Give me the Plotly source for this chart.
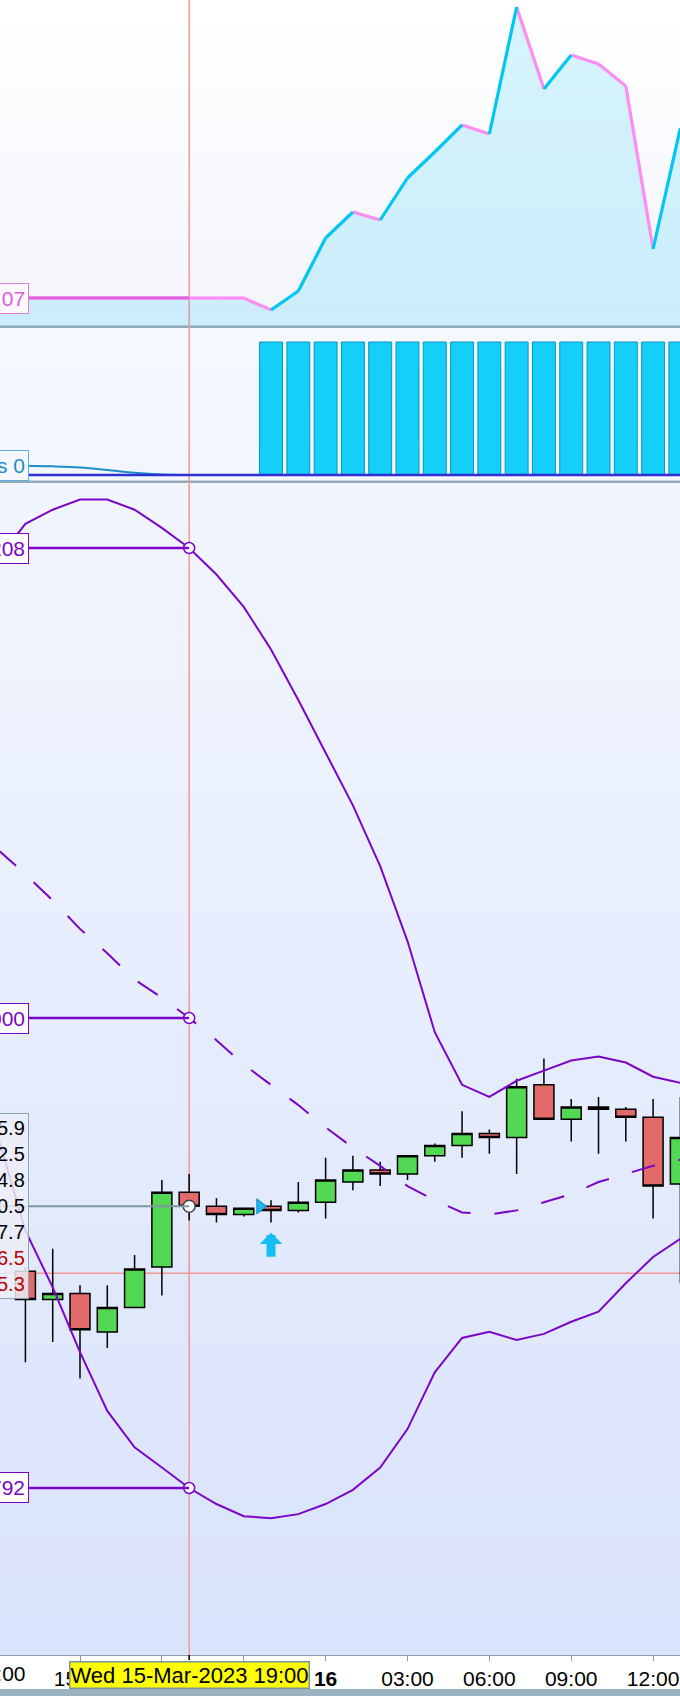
import pandas as pd
import plotly.graph_objects as go

# ---- data -------------------------------------------------------------
# hourly timeline 15-Mar-2023 12:00 .. 16-Mar-2023 13:00
hours = pd.date_range("2023-03-15 12:00", "2023-03-16 13:00", freq="h")
candle_hours = hours[1:]

# hourly OHLC 15-Mar 13:00 .. 16-Mar 13:00
opens = [3987.5, 3986.1, 3986.4, 3984.5, 3985.7, 3987.7, 3991.4, 3990.7, 3990.3, 3990.7,
         3990.5, 3990.9, 3991.9, 3992.5, 3992.3, 3993.2, 3993.7, 3994.3, 3994.1, 3996.7,
         3995.0, 3995.6, 3995.5, 3995.1, 3991.8]
highs = [3987.7, 3988.6, 3986.8, 3986.8, 3988.3, 3992.0, 3992.3, 3991.1, 3990.6, 3991.0,
         3991.9, 3993.1, 3993.2, 3992.9, 3993.2, 3993.8, 3995.4, 3994.5, 3997.0, 3998.0,
         3996.0, 3996.1, 3995.6, 3996.0, 3996.1]
lows = [3983.0, 3984.0, 3982.2, 3983.7, 3985.7, 3986.3, 3990.0, 3989.9, 3990.2, 3989.9,
        3990.4, 3990.1, 3991.5, 3991.7, 3992.0, 3992.9, 3993.1, 3993.3, 3992.3, 3995.0,
        3993.9, 3993.3, 3993.9, 3990.1, 3986.9]
closes = [3986.1, 3986.4, 3984.6, 3985.7, 3987.6, 3991.4, 3990.7, 3990.3, 3990.6, 3990.5,
          3990.9, 3992.0, 3992.5, 3992.3, 3993.2, 3993.7, 3994.3, 3994.1, 3996.6, 3995.0,
          3995.6, 3995.5, 3995.1, 3991.7, 3994.1]

# bollinger bands, 12:00 .. 13:00
bb_upper = [4022.7, 4024.4, 4025.1, 4025.6, 4025.6, 4025.1, 4024.2, 4023.208, 4021.9, 4020.3,
            4018.2, 4015.7, 4013.1, 4010.5, 4007.5, 4003.8, 3999.3, 3996.7, 3996.1, 3996.9,
            3997.4, 3997.9, 3998.1, 3997.8, 3997.1, 3996.8]
bb_mid = [4008.3, 4007.1, 4005.8, 4004.4, 4003.2, 4001.9, 4001.0, 4000.0, 3998.9, 3997.7,
          3996.7, 3995.7, 3994.6, 3993.6, 3992.7, 3991.7, 3991.0, 3990.4, 3990.3, 3990.5,
          3990.9, 3991.3, 3991.9, 3992.3, 3992.7, 3993.0]
bb_lower = [3994.1, 3989.5, 3986.7, 3983.5, 3980.6, 3978.8, 3977.8, 3976.792, 3976.0, 3975.4,
            3975.3, 3975.5, 3976.0, 3976.7, 3977.8, 3979.7, 3982.5, 3984.2, 3984.5, 3984.1,
            3984.4, 3985.0, 3985.5, 3986.9, 3988.2, 3989.1]

# top panel oscillator
osc = [1.07, 1.07, 1.07, 1.07, 1.07, 1.07, 1.07, 1.07, 1.07, 1.07,
       1.01, 1.105, 1.37, 1.50, 1.46, 1.67, 1.80, 1.935, 1.89, 2.525,
       2.115, 2.285, 2.24, 2.13, 1.315, 1.92]

# middle panel: signal state bars and fading line
sig_bars = [0, 0, 0, 0, 0, 0, 0, 0, 0, 0,
            1, 1, 1, 1, 1, 1, 1, 1, 1, 1,
            1, 1, 1, 1, 1, 1]
sig_line = [0.072, 0.070, 0.065, 0.056, 0.038, 0.017, 0.004, 0.0, 0.0, 0.0,
            0.0, 0.0, 0.0, 0.0, 0.0, 0.0, 0.0, 0.0, 0.0, 0.0,
            0.0, 0.0, 0.0, 0.0, 0.0, 0.0]

entry_time = ["2023-03-15 21:36"]
entry_price = [3990.7]
arrow_time = ["2023-03-15 22:00"]
arrow_price = [3989.4]

cursor_time = "2023-03-15 19:00"
cursor_price = 3987.4
cursor_label = "Wed 15-Mar-2023 19:00"

tick_times = ["2023-03-15 15:00", "2023-03-15 18:00", "2023-03-15 21:00", "2023-03-16 00:00",
              "2023-03-16 03:00", "2023-03-16 06:00", "2023-03-16 09:00", "2023-03-16 12:00"]
tick_text = ["15:00", "18:00", "21:00", "<b>16</b>", "03:00", "06:00", "09:00", "12:00"]
cut_tick = "12:00"

# data-window values (left part cut off in the screenshot)
stack_values = ["5.9", "2.5", "4.8", "0.5", "7.7", "6.5", "5.3"]
stack_red = [False, False, False, False, False, True, True]

# ---- geometry ----------------------------------------------------------
W, H = 680, 1696
PLOT_H = 1655
x_range = ["2023-03-15 12:04:07", "2023-03-16 12:59:10"]
FONT = "Liberation Sans, Arial, sans-serif"
PURPLE = "#7a06c8"


def py(px):
    return (PLOT_H - px) / PLOT_H


def gradient(top, bottom, c_top, c_bot, n=30):
    out = []
    for k in range(n):
        f = k / (n - 1)
        col = tuple(round(a + (b - a) * f) for a, b in zip(c_top, c_bot))
        y0 = top + (bottom - top) * k / n
        y1 = top + (bottom - top) * (k + 1) / n + 0.6
        out.append(dict(type="rect", xref="paper", yref="paper", x0=0, x1=1,
                        y0=py(min(y1, bottom)), y1=py(y0),
                        fillcolor="rgb(%d,%d,%d)" % col, line=dict(width=0), layer="below"))
    return out


ci = list(hours).index(pd.Timestamp(cursor_time))

fig = go.Figure()

# top panel
fig.add_trace(go.Scatter(x=hours, y=osc, mode="lines", line=dict(width=0),
                         fill="tozeroy", fillcolor="rgba(30,200,250,0.18)",
                         yaxis="y", hoverinfo="skip"))
up_x, up_y, dn_x, dn_y = [], [], [], []
for i in range(1, len(osc)):
    tx, ty = (up_x, up_y) if osc[i] > osc[i - 1] else (dn_x, dn_y)
    tx += [hours[i - 1], hours[i], None]
    ty += [osc[i - 1], osc[i], None]
fig.add_trace(go.Scatter(x=dn_x, y=dn_y, mode="lines", yaxis="y",
                         line=dict(color="#ff8cf2", width=3.2)))
fig.add_trace(go.Scatter(x=up_x, y=up_y, mode="lines", yaxis="y",
                         line=dict(color="#00c6f2", width=3.2)))

# middle panel
fig.add_trace(go.Bar(x=hours, y=sig_bars, width=3024000, yaxis="y2",
                     marker=dict(color="#14cff7", line=dict(color="#0b94c6", width=1))))
fig.add_trace(go.Scatter(x=hours, y=sig_line, mode="lines", yaxis="y2",
                         line=dict(color="#1a8ec6", width=2, shape="spline")))

# price panel
fig.add_trace(go.Scatter(x=hours, y=bb_upper, mode="lines", yaxis="y3",
                         line=dict(color=PURPLE, width=2)))
fig.add_trace(go.Scatter(x=hours, y=bb_lower, mode="lines", yaxis="y3",
                         line=dict(color=PURPLE, width=2)))
fig.add_trace(go.Scatter(x=hours, y=bb_mid, mode="lines", yaxis="y3",
                         line=dict(color=PURPLE, width=2, dash="24px,24px")))
fig.add_trace(go.Candlestick(
    x=candle_hours, open=opens, high=highs, low=lows, close=closes, yaxis="y3",
    whiskerwidth=0,
    increasing=dict(fillcolor="#52d852", line=dict(color="black", width=1.5)),
    decreasing=dict(fillcolor="#e26a6a", line=dict(color="black", width=1.5)),
))
fig.add_trace(go.Scatter(x=entry_time, y=entry_price, mode="markers", yaxis="y3",
                         marker=dict(symbol="triangle-right", size=13, color="#1cb6ee",
                                     line=dict(color="#0a86c0", width=1))))

# crosshair circles
fig.add_trace(go.Scatter(x=[cursor_time] * 3, y=[bb_upper[ci], bb_mid[ci], bb_lower[ci]],
                         mode="markers", yaxis="y3",
                         marker=dict(size=11, color="white", line=dict(color=PURPLE, width=1.5))))
fig.add_trace(go.Scatter(x=[cursor_time], y=[closes[ci - 1]], mode="markers", yaxis="y3",
                         marker=dict(size=12, color="white", line=dict(color="#3c4448", width=1.5))))

# ---- shapes -----------------------------------------------------------
shapes = []
shapes += gradient(0, 326, (255, 255, 255), (243, 245, 252))
shapes += gradient(328, 481, (245, 248, 254), (243, 246, 253), n=4)
shapes += gradient(483, PLOT_H, (241, 245, 254), (217, 227, 251))
for sep in (326.5, 481.5):
    shapes.append(dict(type="rect", xref="paper", yref="paper", x0=0, x1=1,
                       y0=py(sep + 1.5), y1=py(sep - 1), fillcolor="#93aab6",
                       line=dict(width=0), layer="below"))
# crosshair
shapes.append(dict(type="line", xref="x", yref="paper", x0=cursor_time, x1=cursor_time,
                   y0=0, y1=1, line=dict(color="#f59696", width=1.5), layer="below"))
shapes.append(dict(type="line", xref="paper", yref="y3", x0=0, x1=1,
                   y0=cursor_price, y1=cursor_price,
                   line=dict(color="#f59696", width=1.5), layer="below"))
# label connectors
shapes.append(dict(type="line", xref="x", yref="y", x0=x_range[0], x1=cursor_time,
                   y0=osc[ci], y1=osc[ci], line=dict(color="#e066e0", width=3)))
for v in (bb_upper[ci], bb_mid[ci], bb_lower[ci]):
    shapes.append(dict(type="line", xref="x", yref="y3", x0=x_range[0], x1=cursor_time,
                       y0=v, y1=v, line=dict(color=PURPLE, width=2.5)))
shapes.append(dict(type="line", xref="x", yref="y3", x0=x_range[0], x1=cursor_time,
                   y0=closes[ci - 1], y1=closes[ci - 1], line=dict(color="#8096a4", width=2)))
# zero line of the signal panel
shapes.append(dict(type="line", xref="paper", yref="y2", x0=0, x1=1, y0=0, y1=0,
                   line=dict(color="#2f2fd4", width=2.5)))
# bottom strip and cursor tick
shapes.append(dict(type="rect", xref="paper", yref="paper", x0=0, x1=1,
                   y0=py(H), y1=py(1689), fillcolor="#9bb3bf", line=dict(width=0)))
shapes.append(dict(type="line", xref="x", yref="paper", x0=cursor_time, x1=cursor_time,
                   y0=py(PLOT_H), y1=py(PLOT_H + 5), line=dict(color="black", width=1.5)))

# ---- annotations ------------------------------------------------------
lab_x = 29 / W
ann = []


def value_tag(text, y, yref, color, border, bg="white"):
    return dict(x=lab_x, xref="paper", xanchor="right", y=y, yref=yref, yanchor="middle",
                text=text, showarrow=False, font=dict(size=21, color=color, family=FONT),
                bgcolor=bg, bordercolor=border, borderwidth=1, borderpad=3)


ann.append(value_tag(f"{osc[ci]:.2f}"[-3:], osc[ci], "y", "#d95fd9", "#e07ae0", "#fdf8fe"))
ann.append(value_tag("s " + f"{sig_line[ci]:.0f}", sig_line[0] - 0.004, "y2", "#1d8cc8",
                     "#64acd8", "#f4f8fe"))
for v in (bb_upper[ci], bb_mid[ci], bb_lower[ci]):
    ann.append(value_tag(f"{v:.3f}"[-3:], v, "y3", PURPLE, PURPLE))

lines = []
for t, red in zip(stack_values, stack_red):
    lines.append(f'<span style="color:#b80000">{t}</span>' if red else t)
ann.append(dict(x=lab_x, xref="paper", xanchor="right", y=closes[ci - 1], yref="y3",
                yanchor="middle", text="<br>".join(lines), align="right", showarrow=False,
                font=dict(size=20, color="black", family=FONT),
                bgcolor="rgba(236,237,247,0.85)", bordercolor="#8ea4b2",
                borderwidth=1, borderpad=3))

# buy arrow under the signal candle
ann.append(dict(x=arrow_time[0], xref="x", y=arrow_price[0], yref="y3", text=" ",
                font=dict(size=1), showarrow=True, arrowhead=1, arrowsize=0.42,
                arrowwidth=9, arrowcolor="#16bdf2", ax=0, ay=26, standoff=0))

ann.append(dict(x=-1 / W, xref="paper", xanchor="center", y=py(1673), yref="paper",
                yanchor="middle", text=cut_tick, showarrow=False,
                font=dict(size=21, color="black", family=FONT)))
ann.append(dict(x=cursor_time, xref="x", xanchor="center", y=py(1674.5), yref="paper",
                yanchor="middle", text=cursor_label, showarrow=False,
                font=dict(size=22, color="black", family=FONT),
                bgcolor="#ffff00", bordercolor="#7a92a0", borderwidth=1.5, borderpad=0))

fig.update_layout(
    width=W, height=H,
    margin=dict(l=0, r=0, t=0, b=H - PLOT_H),
    paper_bgcolor="white", plot_bgcolor="rgba(0,0,0,0)",
    showlegend=False, hovermode=False, boxgap=0.267, boxgroupgap=0,
    font=dict(family=FONT, color="black"),
    shapes=shapes, annotations=ann,
    xaxis=dict(domain=[0, 1], anchor="y3", type="date", range=x_range,
               rangeslider=dict(visible=False), showgrid=False, zeroline=False,
               tickvals=tick_times, ticktext=tick_text, ticks="outside", ticklen=5,
               tickcolor="#8a9aa8", showline=True, linecolor="#8a9aa8", linewidth=1,
               tickfont=dict(size=21, color="black", family=FONT)),
    yaxis=dict(domain=[py(326), 1], range=[0.93, 2.56], visible=False),
    yaxis2=dict(domain=[py(481), py(328)], range=[-0.0451, 1.1053], visible=False),
    yaxis3=dict(domain=[0, py(483)], range=[3968.545, 4026.418], visible=False),
)

fig.write_html("out.html", config={"displayModeBar": False},
               post_script="document.body.style.margin='0';")
